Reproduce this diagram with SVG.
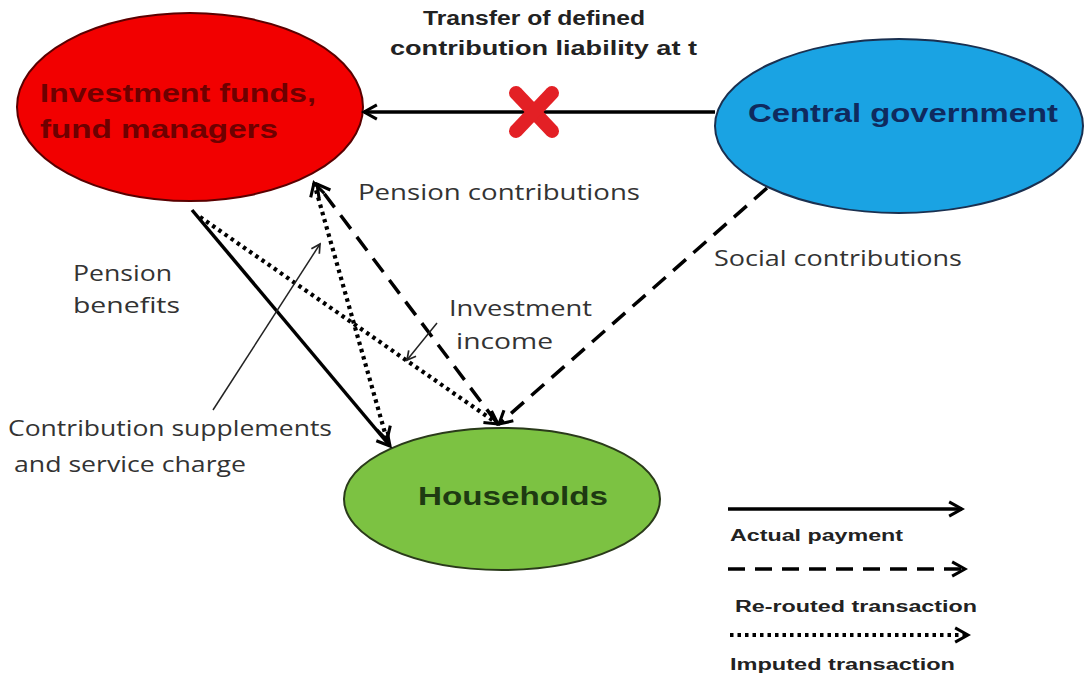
<svg xmlns="http://www.w3.org/2000/svg" width="1086" height="682" viewBox="0 0 1086 682">
<style>
.solid{stroke:#000;stroke-width:3.5;fill:none}
.dash{stroke:#000;stroke-width:3.5;fill:none;stroke-dasharray:17 10}
.dot{stroke:#000;stroke-width:4.2;fill:none;stroke-dasharray:3.5 4}
.thin{stroke:#222;stroke-width:1.5;fill:none}
.lbl{font-family:"Open Sans","Liberation Sans",sans-serif;font-size:21px;fill:#333}
.bold{font-family:"Liberation Sans",Arial,sans-serif;font-weight:bold;fill:#222}
.node{font-family:"Liberation Sans",Arial,sans-serif;font-weight:bold;font-size:26px}
</style>
<defs>
<marker id="ah" viewBox="0 0 14 14" refX="12" refY="7" markerWidth="18" markerHeight="18" markerUnits="userSpaceOnUse" orient="auto-start-reverse">
<path d="M2,1.5 L12,7 L2,12.5" fill="none" stroke="#000" stroke-width="2.4"/>
</marker>
<marker id="ahs" viewBox="0 0 14 14" refX="12" refY="7" markerWidth="12" markerHeight="12" markerUnits="userSpaceOnUse" orient="auto">
<path d="M2,1.5 L12,7 L2,12.5" fill="none" stroke="#222" stroke-width="2"/>
</marker>
</defs>
<rect width="1086" height="682" fill="#fff"/>

<g id="node-investment">
<ellipse cx="190" cy="107" rx="173" ry="94" fill="#f20000" stroke="#5a0000" stroke-width="2"/>
<text class="node" fill="#6e0000" x="40" y="102" font-size="27" textLength="276" lengthAdjust="spacingAndGlyphs">Investment funds,</text>
<text class="node" fill="#6e0000" x="40" y="138" font-size="27" textLength="238" lengthAdjust="spacingAndGlyphs">fund managers</text>
</g>

<g id="node-government">
<ellipse cx="899" cy="126" rx="184" ry="87" fill="#1aa3e3" stroke="#1a3050" stroke-width="2"/>
<text class="node" fill="#0f2a5e" x="748" y="122" font-size="27" textLength="310" lengthAdjust="spacingAndGlyphs">Central government</text>
</g>

<g id="node-households">
<ellipse cx="502" cy="499" rx="158" ry="71" fill="#7cc242" stroke="#2a3a1a" stroke-width="2"/>
<text class="node" fill="#1e3a12" x="418" y="505" font-size="25" textLength="190" lengthAdjust="spacingAndGlyphs">Households</text>
</g>

<g id="connectors">
<line class="solid" x1="715" y1="112" x2="364" y2="112" marker-end="url(#ah)"/>
<g stroke="#e32025" stroke-width="14" stroke-linecap="round">
<line x1="516" y1="93" x2="552" y2="131"/>
<line x1="552" y1="93" x2="516" y2="131"/>
</g>
<line class="solid" x1="192" y1="210" x2="390" y2="446" marker-end="url(#ah)"/>
<line class="dot" x1="200" y1="217" x2="498" y2="424" marker-end="url(#ah)"/>
<line class="dot" x1="314" y1="183" x2="387" y2="440" marker-start="url(#ah)" marker-end="url(#ah)"/>
<line class="dash" x1="497" y1="423" x2="317" y2="184" marker-end="url(#ah)"/>
<line class="dash" x1="767" y1="188" x2="499" y2="424" marker-end="url(#ah)"/>
<line class="thin" x1="213" y1="410" x2="320" y2="244" marker-end="url(#ahs)"/>
<line class="thin" x1="437" y1="323" x2="407" y2="360" marker-end="url(#ahs)"/>
</g>

<g id="labels">
<text class="bold" x="423" y="25" font-size="20" textLength="222" lengthAdjust="spacingAndGlyphs">Transfer of defined</text>
<text class="bold" x="390" y="55" font-size="20" textLength="307" lengthAdjust="spacingAndGlyphs">contribution liability at t</text>
<text class="lbl" x="358" y="200" textLength="282" lengthAdjust="spacingAndGlyphs">Pension contributions</text>
<text class="lbl" x="714" y="266" textLength="248" lengthAdjust="spacingAndGlyphs">Social contributions</text>
<text class="lbl" x="73" y="281" textLength="99" lengthAdjust="spacingAndGlyphs">Pension</text>
<text class="lbl" x="73" y="313" textLength="107" lengthAdjust="spacingAndGlyphs">benefits</text>
<text class="lbl" x="449" y="316" textLength="143" lengthAdjust="spacingAndGlyphs">Investment</text>
<text class="lbl" x="456" y="349" textLength="97" lengthAdjust="spacingAndGlyphs">income</text>
<text class="lbl" x="8" y="436" textLength="324" lengthAdjust="spacingAndGlyphs">Contribution supplements</text>
<text class="lbl" x="14" y="472" textLength="232" lengthAdjust="spacingAndGlyphs">and service charge</text>
</g>

<g id="legend">
<line class="solid" x1="728" y1="509" x2="962" y2="509" marker-end="url(#ah)"/>
<text class="bold" x="730" y="541" font-size="16" textLength="173" lengthAdjust="spacingAndGlyphs">Actual  payment</text>
<line class="dash" x1="728" y1="569" x2="965" y2="569" marker-end="url(#ah)"/>
<text class="bold" x="735" y="612" font-size="16" textLength="242" lengthAdjust="spacingAndGlyphs">Re-routed transaction</text>
<line class="dot" x1="730" y1="635" x2="968" y2="635" marker-end="url(#ah)"/>
<text class="bold" x="730" y="670" font-size="16" textLength="225" lengthAdjust="spacingAndGlyphs">Imputed transaction</text>
</g>
</svg>
